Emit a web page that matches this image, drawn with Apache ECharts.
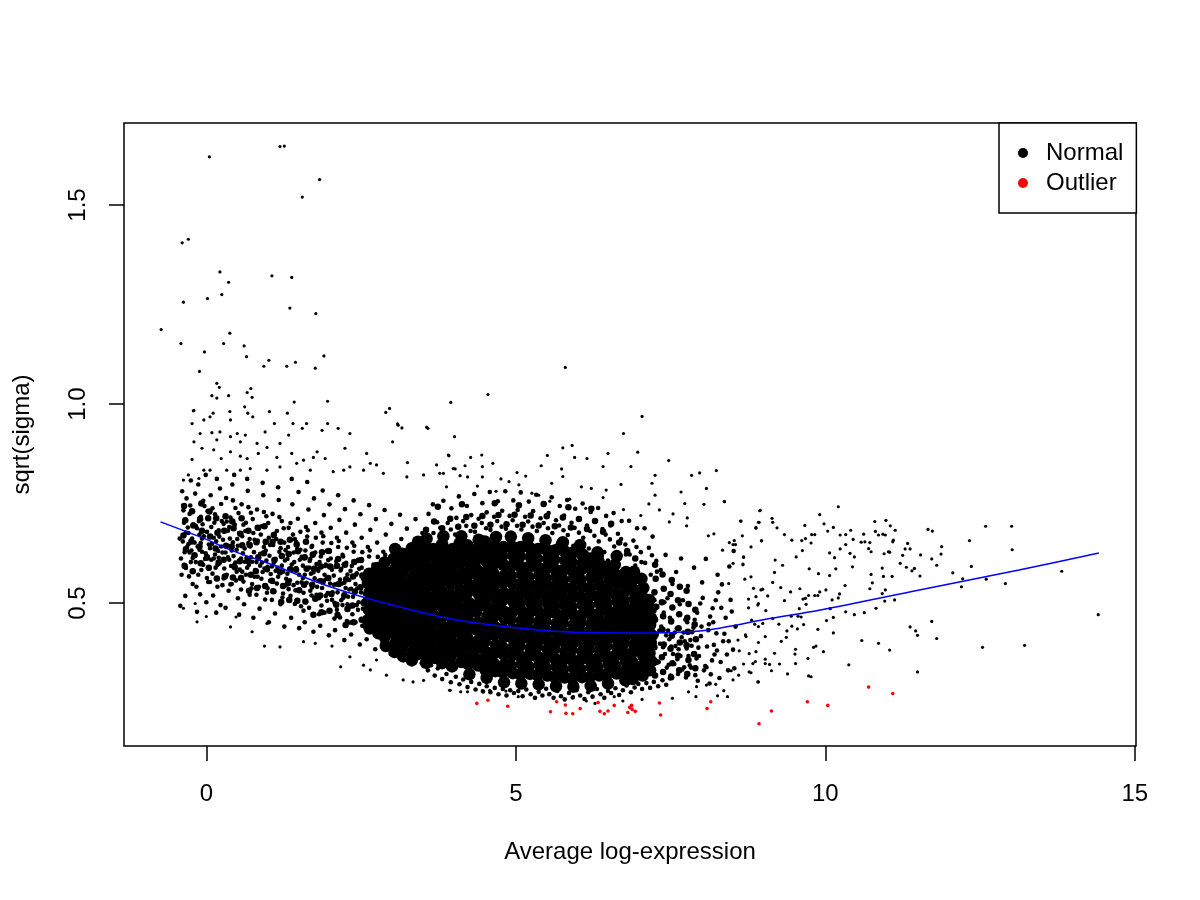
<!DOCTYPE html>
<html><head><meta charset="utf-8">
<script src="https://cdn.jsdelivr.net/npm/echarts@6/dist/echarts.min.js"></script>
<style>html,body{margin:0;padding:0;background:#fff}#c{width:1200px;height:900px}</style>
</head><body><div id="c"></div>
<script>
const xTicks = [0, 5, 10, 15];
const yTicks = [0.5, 1.0, 1.5];

const outliers = [[4.37,.248],[4.55,.256],[4.87,.241],[5.56,.227],[5.66,.252],[5.80,.244],[5.81,.223],[5.92,.222],[6.04,.235],[6.33,.250],[6.36,.228],[6.43,.222],[6.49,.229],[6.59,.243],[6.81,.225],[6.84,.238],[6.87,.243],[6.88,.233],[6.93,.228],[7.32,.249],[7.34,.219],[8.09,.235],[8.15,.252],[8.93,.197],[9.13,.229],[9.71,.252],[10.04,.243],[10.70,.289],[11.09,.273]];

const trendLine = [[-0.74,.704],[0,.660],[0.39,.633],[1,.600],[2,.541],[3,.495],[4.1,.456],[5.39,.432],[6.2,.426],[7,.425],[8.08,.432],[9.1,.461],[9.9,.482],[11.52,.533],[13.13,.583],[14.42,.626]];

const normalSparse = [
[0.05,1.621],[1.19,1.647],[1.26,1.648],[1.83,1.564],[1.55,1.520],[-0.39,1.405],[-0.29,1.414],[0.22,1.332],[0.36,1.306],[0.25,1.275],[0.02,1.265],[-0.37,1.256],[1.06,1.322],[1.38,1.318],[1.35,1.241],[1.77,1.227],[-0.73,1.187],[-0.41,1.152],[0.28,1.152],[0.38,1.178],[-0.03,1.131],[0.61,1.146],[0.65,1.119],[-0.11,1.082],[0.93,1.095],[1.01,1.110],[1.30,1.095],[1.44,1.105],[1.76,1.090],[1.90,1.121],[0.17,1.052],[0.21,1.042],[0.09,1.021],[0.17,1.015],[0.36,1.021],[0.66,1.029],[0.72,1.039],[0.74,1.017],[1.42,1.005],[1.96,1.007],[-0.20,0.984],[2.90,0.979],[2.96,0.989],[3.09,0.950],[3.56,0.942],[3.10,0.947],
[-0.21,0.983],[0.11,0.977],[0.38,0.981],[0.62,0.993],[0.67,0.977],[0.75,0.968],[1.02,0.981],[1.31,0.977],[1.40,0.951],[1.62,0.951],[1.96,0.951],[2.13,0.939],[2.32,0.926],[3.16,0.940],[3.58,0.939],[-0.23,0.951],[-0.04,0.960],[0.06,0.968],[0.39,0.960],[-0.10,0.926],[0.09,0.928],[0.22,0.930],[0.50,0.926],[0.63,0.922],[0.95,0.930],[1.10,0.951],[1.33,0.922],[1.55,0.939],[1.87,0.934],[-0.20,0.905],[-0.07,0.889],[0.17,0.910],[0.39,0.918],[0.55,0.905],[0.82,0.901],[1.19,0.901],[0.98,0.891],[1.79,0.880],[2.24,0.889],[2.59,0.876],[3.01,0.905],[4.01,0.918],[-0.23,0.861],[-0.04,0.834],[0.12,0.885],[0.24,0.863],[0.39,0.880],[0.55,0.869],[0.66,0.863],[0.84,0.876],[1.14,0.866],[1.38,0.876],[1.57,0.859],[1.73,0.866],[1.92,0.863],[2.32,0.842],[2.65,0.851],[2.75,0.847],[3.25,0.853],[3.72,0.847],[3.91,0.872],[-0.37,0.809],[-0.29,0.822],[-0.12,0.813],[0.06,0.834],[0.33,0.834],[0.55,0.834],[0.71,0.838],[0.98,0.834],[1.19,0.842],[1.46,0.851],[1.68,0.834],[2.05,0.830],[2.22,0.834],[2.54,0.834],[2.86,0.826],[3.24,0.817],[3.51,0.822],[3.77,0.826],[3.99,0.838],
[-0.37,0.487],[0.00,0.466],[-0.18,0.499],[0.94,0.392],[1.19,0.390],[0.74,0.428],[1.57,0.403],[1.76,0.399],[2.03,0.392],[2.17,0.340],[2.54,0.344],[2.75,0.357],[2.91,0.319],[3.18,0.307],[3.34,0.302],[3.51,0.306],[3.94,0.281],[2.65,0.332],[2.32,0.365],[0.98,0.449],[0.39,0.440],[-0.15,0.453],[0.48,0.465],
[5.80,1.092],[4.55,1.024],[3.95,1.004],[7.04,0.969],[6.74,0.926],[5.76,0.890],[5.91,0.896],[6.97,0.879],[6.49,0.876],[7.47,0.858],[8.24,0.833],[7.97,0.827],[7.84,0.821],[7.25,0.821],[6.86,0.843],[6.41,0.843],[6.15,0.863],[5.95,0.866],[5.51,0.871],[5.41,0.845],[5.74,0.837],[5.76,0.818],[4.45,0.872],[4.27,0.866],[3.92,0.870],[4.18,0.845],[4.46,0.843],[4.63,0.851],[4.02,0.837],[8.37,0.755],[8.08,0.788],[8.04,0.748],[7.67,0.779],[7.73,0.750],[7.25,0.771],[7.20,0.801],[8.64,0.706],[8.93,0.703],[8.95,0.733],[8.97,0.656],[8.88,0.690],[8.66,0.669],[8.20,0.674],[8.11,0.669],[7.77,0.714],[7.76,0.694],[7.54,0.724],[7.48,0.704],[7.32,0.734],[7.15,0.749],[7.02,0.720],[6.74,0.735],[6.70,0.798],[6.46,0.784],[6.41,0.765],[6.13,0.738],[6.22,0.788],[6.06,0.792],[5.87,0.761],[5.58,0.801],[5.55,0.756],[5.37,0.771],[5.16,0.819],[5.02,0.828],[4.89,0.805],[4.76,0.812],[4.68,0.781],[4.46,0.817],[4.38,0.794],[4.22,0.817],[4.10,0.820],[3.88,0.792],[3.83,0.826],[5.05,0.797],[5.26,0.776],
[8.51,0.647],[8.34,0.633],[8.53,0.657],[8.68,0.615],[8.51,0.600],[8.67,0.596],[8.96,0.533],[8.88,0.516],[8.70,0.560],[8.44,0.549],[8.91,0.495],[8.76,0.488],[8.86,0.447],[8.72,0.416],[9.03,0.416],[8.92,0.401],[8.88,0.378],[9.03,0.348],[8.83,0.348],[8.77,0.327],[8.91,0.302],[8.51,0.307],[8.60,0.319],[8.23,0.296],[8.08,0.294],[7.92,0.290],[8.26,0.267],[7.91,0.265],[7.79,0.277],[7.53,0.261],[7.04,0.258],[6.73,0.254],[6.59,0.265],[6.14,0.254],[6.28,0.248],[5.93,0.265],[5.55,0.273],[5.31,0.261],[5.04,0.265],[4.84,0.279],[4.46,0.280],[4.58,0.281],[4.22,0.277],[4.11,0.277],[3.93,0.281],
[10.21,0.742],[9.91,0.722],[9.67,0.695],[9.98,0.699],[10.13,0.690],[10.04,0.681],[9.83,0.672],[9.78,0.672],[9.62,0.657],[9.68,0.662],[9.77,0.651],[9.63,0.632],[9.53,0.616],[9.74,0.586],[9.89,0.574],[10.07,0.626],[10.15,0.614],[10.17,0.586],[10.07,0.569],[10.24,0.671],[10.33,0.672],[10.41,0.683],[10.45,0.660],[10.33,0.647],[10.24,0.636],[10.40,0.625],[10.47,0.616],[10.44,0.591],[10.62,0.673],[10.58,0.653],[10.64,0.654],[10.72,0.652],[10.70,0.637],[10.74,0.629],[10.80,0.705],[10.81,0.680],[10.86,0.671],[10.98,0.708],[10.93,0.673],[10.97,0.671],[11.05,0.694],[11.13,0.683],[11.09,0.654],[11.10,0.658],[11.02,0.629],[10.95,0.624],[11.04,0.628],[11.33,0.650],[11.29,0.636],[11.37,0.636],[11.25,0.620],[11.21,0.600],[11.31,0.590],[11.40,0.581],[11.44,0.587],[11.53,0.568],[11.54,0.621],[11.66,0.685],[11.73,0.681],[11.88,0.642],[11.87,0.623],[11.72,0.611],[11.80,0.595],[12.06,0.576],[12.22,0.561],[12.33,0.657],[12.36,0.592],[12.59,0.693],[13.01,0.693],[13.02,0.634],[12.60,0.560],[12.20,0.541],[12.91,0.549],[13.82,0.580],[14.41,0.471],[13.22,0.394],[12.54,0.389],[11.80,0.411],[11.72,0.454],[11.37,0.440],[11.46,0.430],[11.49,0.419],[11.49,0.327],[11.04,0.382],[10.86,0.399],[10.59,0.406],[10.38,0.345],[10.63,0.476],[10.47,0.471],[10.33,0.478],[10.82,0.487],[10.92,0.524],[10.97,0.533],[11.12,0.508],[10.96,0.505],[10.74,0.572],[10.76,0.551],[10.72,0.536],[10.92,0.588],[10.94,0.567],[11.08,0.567],[10.32,0.544],[10.23,0.523],[10.21,0.513],[10.11,0.508],[10.01,0.533],[9.91,0.528],[9.88,0.519],[9.83,0.519],[10.13,0.464],[10.08,0.486],[10.02,0.456],[9.88,0.434],[10.13,0.425],[9.73,0.519],[9.68,0.512],[9.69,0.497],[9.59,0.536],[9.64,0.510],[9.58,0.486],[9.61,0.465],[9.65,0.446],[9.56,0.467],[9.85,0.392],[9.81,0.389],[9.97,0.378],[9.72,0.361],[9.77,0.315],[9.73,0.317],[9.52,0.384],[9.52,0.348],[9.51,0.372],[9.55,0.435],[9.46,0.442],[9.45,0.467],[9.44,0.528],[9.39,0.322],
[8.94,0.732],[8.92,0.703],[8.63,0.706],[8.37,0.755],[8.88,0.688],[8.97,0.657],[9.14,0.713],[9.15,0.703],[9.22,0.689],[9.34,0.672],[9.46,0.658],[8.80,0.641],[9.19,0.608],[9.31,0.595],[9.18,0.577],[9.15,0.552],[9.28,0.539],[9.07,0.518],[9.34,0.506],[9.15,0.461],[9.25,0.447],[9.04,0.481],[8.99,0.449],[9.38,0.430],[9.37,0.414],[9.29,0.404],[9.18,0.374],[9.10,0.346],[9.26,0.347],[9.13,0.330],[8.92,0.302],[9.03,0.359],[8.87,0.353],[8.80,0.325],[8.68,0.616],[8.67,0.598],[8.55,0.647],[8.45,0.652],[8.80,0.566],[8.84,0.537],[8.99,0.535],[8.92,0.499],[8.76,0.510],[8.81,0.457],[8.92,0.441],[8.59,0.407],[8.71,0.420],[8.61,0.380],[8.77,0.373],[8.68,0.347],[8.48,0.330],[8.42,0.265],[8.36,0.280]
];

const normalCloud = [
[-0.41,.612],[-0.38,.655],[-0.36,.702],[-0.33,.588],[-0.31,.641],[-0.29,.676],[-0.27,.724],[-0.25,.603],[-0.23,.662],[-0.22,.548],[-0.40,.571],[-0.35,.628],[-0.30,.690],[-0.26,.745],[-0.24,.632],[-0.21,.697],[-0.43,.662],[-0.37,.733],[-0.34,.518],[-0.28,.567],[-0.39,.781],[-0.32,.763],[-0.42,.493],[-0.25,.808],[-0.22,.613],[-0.36,.596],[-0.29,.648],[-0.21,.581],[-0.33,.677],[-0.27,.627],
[-0.19,.652],[-0.17,.603],[-0.15,.688],[-0.13,.571],[-0.11,.634],[-0.09,.717],[-0.07,.662],[-0.05,.596],[-0.03,.744],[-0.01,.625],[0.01,.679],[0.03,.553],[-0.18,.775],[-0.14,.642],[-0.10,.522],[-0.06,.698],[-0.02,.611],[0.02,.731],[0.04,.647],[-0.16,.541],[-0.12,.706],[-0.08,.583],[-0.04,.668],[0.00,.502],[-0.20,.619],[-0.13,.798],[-0.07,.629],[0.04,.587],[-0.11,.672],[-0.01,.822],[-0.17,.694],[0.02,.612],[-0.05,.757],[-0.15,.478],[-0.09,.651],[0.01,.563],
[0.06,.638],[0.08,.691],[0.10,.574],[0.12,.612],[0.14,.723],[0.16,.655],[0.18,.541],[0.20,.683],[0.22,.603],[0.24,.749],[0.26,.627],[0.28,.562],[0.07,.771],[0.09,.648],[0.11,.519],[0.13,.702],[0.15,.589],[0.17,.812],[0.19,.631],[0.21,.667],[0.23,.495],[0.25,.706],[0.27,.659],[0.29,.587],[0.06,.553],[0.10,.738],[0.14,.622],[0.18,.596],[0.22,.788],[0.26,.545],[0.28,.699],[0.12,.664],[0.16,.476],[0.20,.614],[0.24,.642],[0.08,.609],
[0.31,.627],[0.33,.571],[0.35,.682],[0.37,.609],[0.39,.715],[0.41,.548],[0.43,.653],[0.45,.596],[0.47,.739],[0.49,.634],[0.51,.512],[0.53,.676],[0.32,.764],[0.34,.643],[0.36,.531],[0.38,.662],[0.40,.593],[0.42,.798],[0.44,.618],[0.46,.697],[0.48,.557],[0.50,.661],[0.52,.726],[0.54,.584],[0.31,.488],[0.35,.615],[0.39,.547],[0.43,.758],[0.47,.602],[0.51,.644],[0.53,.471],[0.37,.691],[0.41,.632],[0.45,.822],[0.49,.579],[0.33,.705],
[0.56,.612],[0.58,.668],[0.60,.554],[0.62,.637],[0.64,.702],[0.66,.589],[0.68,.651],[0.70,.521],[0.72,.727],[0.74,.604],[0.76,.676],[0.78,.566],[0.57,.748],[0.59,.625],[0.61,.497],[0.63,.681],[0.65,.613],[0.67,.782],[0.69,.596],[0.71,.642],[0.73,.537],[0.75,.711],[0.77,.628],[0.79,.583],[0.56,.534],[0.60,.697],[0.64,.571],[0.68,.741],[0.72,.615],[0.76,.463],[0.78,.659],[0.62,.604],[0.66,.812],[0.70,.661],[0.74,.548],[0.58,.579],
[0.81,.603],[0.83,.657],[0.85,.541],[0.87,.624],[0.89,.693],[0.91,.578],[0.93,.641],[0.95,.509],[0.97,.718],[0.99,.591],[1.01,.664],[1.03,.556],[0.82,.735],[0.84,.612],[0.86,.486],[0.88,.672],[0.90,.602],[0.92,.771],[0.94,.587],[0.96,.632],[0.98,.526],[1.00,.701],[1.02,.619],[1.04,.573],[0.81,.521],[0.85,.687],[0.89,.561],[0.93,.729],[0.97,.607],[1.01,.452],[1.03,.646],[0.87,.594],[0.91,.802],[0.95,.651],[0.99,.537],[0.83,.566],
[1.06,.592],[1.08,.646],[1.10,.529],[1.12,.611],[1.14,.681],[1.16,.566],[1.18,.629],[1.20,.497],[1.22,.706],[1.24,.579],[1.26,.652],[1.28,.544],[1.07,.724],[1.09,.601],[1.11,.474],[1.13,.661],[1.15,.589],[1.17,.759],[1.19,.575],[1.21,.619],[1.23,.514],[1.25,.688],[1.27,.607],[1.29,.561],[1.06,.508],[1.10,.674],[1.14,.549],[1.18,.716],[1.22,.594],[1.26,.441],[1.28,.633],[1.12,.581],[1.16,.791],[1.20,.638],[1.24,.524],[1.08,.553],
[1.31,.574],[1.34,.622],[1.36,.518],[1.33,.689],[1.38,.597],[1.41,.545],[1.43,.661],[1.46,.583],[1.48,.712],[1.51,.609],[1.53,.492],[1.32,.641],[1.35,.557],[1.39,.748],[1.42,.603],[1.44,.532],[1.47,.636],[1.50,.571],[1.52,.679],[1.54,.616],[1.37,.463],[1.40,.672],[1.45,.588],[1.49,.779],[1.31,.611],[1.36,.701],[1.43,.498],[1.47,.551],[1.52,.634],[1.34,.586],[1.41,.627],[1.50,.437],[1.54,.552],[1.38,.812],[1.45,.654],[1.33,.535],
[1.56,.563],[1.58,.612],[1.61,.502],[1.63,.667],[1.66,.589],[1.68,.531],[1.71,.644],[1.73,.577],[1.76,.701],[1.78,.598],[1.57,.481],[1.60,.632],[1.62,.551],[1.65,.735],[1.67,.606],[1.70,.519],[1.72,.619],[1.75,.562],[1.77,.664],[1.79,.541],[1.59,.452],[1.64,.683],[1.69,.574],[1.74,.763],[1.56,.594],[1.61,.691],[1.66,.488],[1.71,.539],[1.76,.627],[1.59,.571],[1.68,.611],[1.73,.428],[1.78,.521],[1.63,.804],[1.70,.641],[1.57,.526],[1.77,.587],
[1.81,.556],[1.83,.603],[1.86,.494],[1.88,.652],[1.91,.571],[1.93,.518],[1.96,.629],[1.98,.562],[2.01,.689],[2.03,.584],[1.82,.472],[1.85,.617],[1.87,.538],[1.90,.721],[1.92,.593],[1.95,.506],[1.97,.608],[2.00,.549],[2.02,.651],[2.04,.527],[1.84,.443],[1.89,.668],[1.94,.561],[1.99,.748],[1.81,.581],[1.86,.677],[1.91,.476],[1.96,.525],[2.01,.612],[1.84,.558],[1.93,.597],[1.98,.419],[2.03,.508],[1.88,.783],[1.95,.632],[1.82,.512],
[2.06,.546],[2.09,.591],[2.11,.483],[2.13,.641],[2.16,.559],[2.18,.507],[2.21,.617],[2.23,.551],[2.26,.677],[2.28,.572],[2.07,.461],[2.10,.605],[2.12,.527],[2.15,.709],[2.17,.582],[2.20,.495],[2.22,.597],[2.25,.538],[2.27,.639],[2.29,.516],[2.08,.432],[2.14,.656],[2.19,.549],[2.24,.736],[2.06,.569],[2.11,.664],[2.16,.464],[2.21,.513],[2.26,.601],[2.09,.547],[2.18,.586],[2.23,.407],[2.28,.497],[2.13,.771],[2.20,.621],[2.07,.501],[2.27,.455],
[2.31,.534],[2.33,.581],[2.36,.472],[2.38,.629],[2.41,.548],[2.43,.495],[2.46,.606],[2.48,.541],[2.51,.664],[2.53,.561],[2.32,.451],[2.35,.593],[2.37,.516],[2.40,.697],[2.42,.571],[2.45,.483],[2.47,.586],[2.50,.527],[2.52,.628],[2.54,.505],[2.34,.421],[2.39,.644],[2.44,.537],[2.49,.723],[2.31,.558],[2.36,.652],[2.41,.452],[2.46,.502],[2.51,.589],[2.34,.536],[2.43,.575],[2.48,.396],[2.53,.486],[2.38,.758],[2.45,.609],[2.32,.491],[2.52,.443],
[2.56,.523],[2.58,.569],[2.61,.461],[2.63,.617],[2.66,.537],[2.68,.484],[2.71,.594],[2.73,.529],[2.76,.652],[2.78,.549],[2.57,.439],[2.60,.581],[2.62,.504],[2.65,.684],[2.67,.559],[2.70,.471],[2.72,.574],[2.75,.515],[2.77,.616],[2.79,.493],[2.59,.409],[2.64,.632],[2.69,.525],[2.74,.711],[2.56,.546],[2.61,.641],[2.66,.441],[2.71,.491],[2.76,.577],[2.59,.524],[2.68,.563],[2.73,.384],[2.78,.474],[2.63,.746],[2.70,.597],[2.57,.479],[2.77,.431],[2.65,.452],
[2.81,.512],[2.83,.558],[2.86,.449],[2.88,.606],[2.91,.526],[2.93,.472],[2.96,.582],[2.98,.518],[3.01,.641],[3.03,.537],[2.82,.427],[2.85,.569],[2.87,.492],[2.90,.672],[2.92,.547],[2.95,.459],[2.97,.562],[3.00,.503],[3.02,.604],[3.04,.481],[2.84,.397],[2.89,.621],[2.94,.513],[2.99,.699],[2.81,.535],[2.86,.629],[2.91,.429],[2.96,.479],[3.01,.566],[2.84,.512],[2.93,.551],[2.98,.372],[3.03,.462],[2.88,.734],[2.95,.585],[2.82,.467],[3.02,.419],[2.90,.441],[2.97,.491],
[3.06,.502],[3.08,.547],[3.11,.438],[3.13,.594],[3.16,.515],[3.18,.461],[3.21,.571],[3.23,.507],[3.26,.629],[3.28,.526],[3.07,.416],[3.10,.557],[3.12,.481],[3.15,.661],[3.17,.536],[3.20,.448],[3.22,.551],[3.25,.492],[3.27,.593],[3.29,.469],[3.09,.386],[3.14,.609],[3.19,.502],[3.24,.687],[3.06,.524],[3.11,.617],[3.16,.418],[3.21,.468],[3.26,.555],[3.09,.501],[3.18,.541],[3.23,.361],[3.28,.451],[3.13,.722],[3.20,.574],[3.07,.456],[3.27,.408],[3.15,.431],[3.22,.479],[3.25,.426],
[3.31,.492],[3.33,.536],[3.36,.428],[3.38,.583],[3.41,.504],[3.43,.451],[3.46,.561],[3.48,.496],[3.51,.618],[3.53,.515],[3.32,.405],[3.35,.546],[3.37,.471],[3.40,.649],[3.42,.525],[3.45,.437],[3.47,.541],[3.50,.481],[3.52,.582],[3.54,.458],[3.34,.376],[3.39,.598],[3.44,.491],[3.49,.676],[3.31,.513],[3.36,.606],[3.41,.407],[3.46,.457],[3.51,.544],[3.34,.489],[3.43,.531],[3.48,.349],[3.53,.441],[3.38,.711],[3.45,.563],[3.32,.445],[3.52,.397],[3.40,.421],[3.47,.468],[3.50,.415],
[3.57,.602],[3.61,.641],[3.64,.588],[3.67,.676],[3.70,.615],[3.73,.703],[3.76,.631],[3.79,.662],[3.59,.724],[3.66,.748],[3.72,.597],[3.78,.689],
[3.81,.623],[3.84,.664],[3.87,.609],[3.90,.701],[3.93,.641],[3.96,.738],[3.99,.618],[4.02,.672],[3.83,.757],[3.89,.627],[3.95,.685],[4.04,.714],
[4.06,.631],[4.09,.672],[4.12,.616],[4.15,.706],[4.18,.648],[4.21,.744],[4.24,.625],[4.27,.681],[4.08,.768],[4.14,.637],[4.20,.694],[4.28,.721],
[4.31,.638],[4.34,.679],[4.37,.624],[4.40,.712],[4.43,.655],[4.46,.751],[4.49,.632],[4.52,.688],[4.33,.774],[4.39,.644],[4.45,.701],[4.53,.728],
[4.56,.642],[4.59,.684],[4.62,.629],[4.65,.717],[4.68,.659],[4.71,.756],[4.74,.637],[4.77,.692],[4.58,.779],[4.64,.649],[4.70,.706],[4.78,.732],
[4.81,.645],[4.84,.687],[4.87,.632],[4.90,.719],[4.93,.661],[4.96,.758],[4.99,.639],[5.02,.694],[4.83,.781],[4.89,.651],[4.95,.708],[5.03,.734],
[5.06,.643],[5.09,.685],[5.12,.631],[5.15,.717],[5.18,.659],[5.21,.755],[5.24,.638],[5.27,.692],[5.08,.778],[5.14,.649],[5.20,.705],[5.28,.731],
[5.31,.640],[5.34,.681],[5.37,.627],[5.40,.713],[5.43,.655],[5.46,.750],[5.49,.634],[5.52,.688],[5.33,.772],[5.39,.645],[5.45,.701],[5.53,.726],
[5.56,.636],[5.59,.676],[5.62,.622],[5.65,.708],[5.68,.650],[5.71,.744],[5.74,.629],[5.77,.683],[5.58,.766],[5.64,.640],[5.70,.695],[5.78,.720],
[5.81,.631],[5.84,.671],[5.87,.617],[5.90,.702],[5.93,.644],[5.96,.737],[5.99,.623],[6.02,.677],[5.83,.759],[5.89,.634],[5.95,.689],[6.03,.713],
[6.06,.624],[6.09,.664],[6.12,.611],[6.15,.695],[6.18,.637],[6.21,.729],[6.24,.616],[6.27,.669],[6.08,.750],[6.14,.627],[6.20,.681],[6.28,.705],
[6.31,.615],[6.34,.655],[6.37,.603],[6.40,.686],[6.43,.628],[6.46,.719],[6.49,.607],[6.52,.660],[6.33,.739],[6.39,.618],[6.45,.672],[6.53,.695],
[6.56,.596],[6.59,.642],[6.62,.584],[6.65,.674],[6.68,.613],[6.71,.706],[6.74,.579],[6.77,.647],[6.58,.726],[6.64,.558],[6.70,.661],[6.78,.622],
[6.81,.566],[6.84,.622],[6.87,.551],[6.90,.657],[6.93,.594],[6.96,.688],[6.99,.541],[7.02,.628],[6.83,.707],[6.89,.527],[6.95,.641],[7.03,.603],
[7.06,.536],[7.09,.601],[7.12,.518],[7.15,.639],[7.18,.571],[7.21,.667],[7.24,.507],[7.27,.606],[7.08,.688],[7.14,.494],[7.20,.620],[7.28,.579],
[3.52,.352],[3.58,.331],[3.63,.344],[3.69,.318],[3.74,.336],[3.81,.309],[3.88,.322],[3.95,.301],
[4.03,.315],[4.09,.296],[4.15,.308],[4.22,.289],[4.28,.302],[4.35,.283],[4.41,.297],[4.47,.278],
[4.53,.291],[4.59,.276],[4.66,.287],[4.72,.271],[4.79,.284],[4.85,.268],[4.91,.281],[4.97,.274],
[5.04,.279],[5.11,.266],[5.17,.283],[5.24,.271],[5.31,.262],[5.37,.277],[5.43,.268],[5.49,.285],
[5.54,.271],[5.61,.262],[5.67,.279],[5.73,.266],[5.79,.258],[5.86,.274],[5.92,.263],[5.98,.281],
[6.04,.268],[6.11,.259],[6.17,.276],[6.24,.265],[6.31,.284],[6.37,.271],[6.43,.262],[6.49,.279],
[6.54,.274],[6.61,.286],[6.67,.269],[6.73,.281],[6.79,.293],[6.86,.276],[6.92,.288],[6.98,.297],
[7.04,.284],[7.11,.299],[7.17,.287],[7.23,.302],[7.30,.291],[7.37,.306],[7.43,.295],[7.49,.311],
[7.31,.352],[7.33,.398],[7.35,.441],[7.37,.327],[7.39,.476],[7.41,.372],[7.43,.419],[7.45,.512],[7.47,.345],[7.49,.463],[7.51,.391],[7.53,.548],[7.32,.431],[7.36,.364],[7.40,.502],[7.44,.338],[7.48,.409],[7.52,.457],[7.34,.583],[7.42,.621],[7.50,.318],[7.38,.389],[7.46,.431],[7.54,.372],
[7.56,.347],[7.58,.392],[7.60,.436],[7.62,.322],[7.64,.471],[7.66,.367],[7.68,.414],[7.70,.507],[7.72,.339],[7.74,.458],[7.76,.386],[7.78,.543],[7.57,.426],[7.61,.359],[7.65,.497],[7.69,.333],[7.73,.404],[7.77,.452],[7.59,.578],[7.67,.612],[7.75,.313],[7.63,.384],[7.71,.426],[7.79,.367],
[7.81,.344],[7.84,.393],[7.87,.438],[7.90,.319],[7.93,.476],[7.96,.367],[7.99,.417],[8.02,.513],[7.83,.338],[7.89,.458],[7.95,.388],[8.01,.552],[7.85,.427],[7.92,.361],[7.98,.499],[8.04,.331],[7.82,.407],[7.88,.589],[7.94,.305],[8.00,.441],
[8.06,.342],[8.09,.391],[8.12,.447],[8.15,.321],[8.18,.487],[8.21,.371],[8.24,.424],[8.27,.527],[8.08,.339],[8.14,.466],[8.20,.395],[8.26,.571],[8.11,.432],[8.17,.356],[8.23,.507],[8.29,.312],[8.07,.611],[8.13,.298],[8.19,.452],[8.25,.381],
[8.31,.352],[8.35,.404],[8.39,.463],[8.43,.331],[8.47,.508],[8.51,.383],[8.55,.441],[8.33,.547],[8.41,.371],[8.49,.479],[8.37,.423],[8.45,.592],[8.53,.336],[8.32,.488],[8.44,.404],[8.52,.631]
];

const normalMid = [
[-0.35,.593],[-0.33,.635],[-0.37,.670],[-0.34,.708],[-0.36,.744],
[-0.22,.580],[-0.19,.620],[-0.24,.655],[-0.21,.695],[-0.23,.731],
[-0.09,.600],[-0.11,.642],[-0.07,.682],[-0.10,.711],[-0.08,.750],
[0.04,.589],[0.01,.615],[0.06,.667],[0.03,.713],[0.05,.730],
[0.17,.562],[0.20,.602],[0.15,.637],[0.18,.677],[0.16,.713],
[0.30,.567],[0.28,.609],[0.32,.644],[0.29,.682],[0.31,.718],
[0.43,.564],[0.46,.590],[0.41,.642],[0.44,.688],[0.42,.705],
[0.56,.563],[0.54,.605],[0.58,.645],[0.55,.674],[0.57,.713],
[0.69,.531],[0.72,.571],[0.67,.606],[0.70,.646],[0.68,.682],
[0.82,.538],[0.80,.580],[0.84,.615],[0.81,.653],[0.83,.689],
[0.95,.543],[0.98,.585],[0.93,.625],[0.96,.654],[0.94,.693],
[1.08,.530],[1.06,.556],[1.10,.608],[1.07,.654],[1.09,.671],
[1.21,.503],[1.24,.543],[1.19,.578],[1.22,.618],[1.20,.654],
[1.34,.508],[1.32,.550],[1.36,.585],[1.33,.623],[1.35,.659],
[1.47,.506],[1.50,.532],[1.45,.584],[1.48,.630],[1.46,.647],
[1.60,.504],[1.58,.546],[1.62,.586],[1.59,.615],[1.61,.654],
[1.73,.471],[1.76,.511],[1.71,.546],[1.74,.586],[1.72,.622],
[1.86,.477],[1.84,.519],[1.88,.554],[1.85,.592],[1.87,.628],
[1.99,.481],[2.02,.523],[1.97,.563],[2.00,.592],[1.98,.631],
[2.12,.470],[2.10,.496],[2.14,.548],[2.11,.594],[2.13,.611],
[2.25,.445],[2.28,.485],[2.23,.520],[2.26,.560],[2.24,.596],
[2.38,.452],[2.36,.494],[2.40,.529],[2.37,.567],[2.39,.603],
[2.51,.458],[2.54,.500],[2.49,.540],[2.52,.569],[2.50,.608],
[7.25,.318],[7.27,.352],[7.24,.389],[7.26,.421],[7.25,.458],[7.27,.491],[7.24,.527],[7.26,.561],[7.25,.596],
[7.38,.327],[7.36,.364],[7.39,.396],[7.37,.433],[7.38,.467],[7.36,.502],[7.39,.536],[7.37,.572],
[7.51,.314],[7.53,.349],[7.50,.385],[7.52,.418],[7.51,.454],[7.53,.489],[7.50,.523],[7.52,.558],
[7.64,.331],[7.62,.368],[7.65,.401],[7.63,.437],[7.64,.472],[7.62,.507],[7.65,.541],
[7.77,.322],[7.79,.357],[7.76,.394],[7.78,.428],[7.77,.463],[7.79,.498],[7.76,.531],
[7.90,.336],[7.88,.372],[7.91,.409],[7.89,.446],[7.90,.483],
[3.55,.684],[3.68,.705],[3.81,.688],[3.94,.712],[4.07,.692],[4.20,.716],[4.33,.694],[4.46,.719],[4.59,.697],[4.72,.721],[4.85,.698],[4.98,.722],[5.11,.697],[5.24,.720],[5.37,.695],[5.50,.718],[5.63,.693],[5.76,.715],[5.89,.690],[6.02,.711],[6.15,.686],[6.28,.706],[6.41,.679],[6.54,.699],[6.67,.652],[6.80,.631],[6.93,.612],
[3.74,.742],[4.13,.748],[4.66,.751],[5.05,.746],[5.45,.749],[5.85,.741],[6.22,.737]
];

const normalCore = [
[2.64,.436],[2.61,.457],[2.63,.483],[2.62,.504],[2.64,.528],[2.61,.551],[2.63,.574],
[2.78,.424],[2.75,.448],[2.77,.471],[2.76,.495],[2.78,.517],[2.75,.542],[2.77,.563],[2.76,.588],
[2.90,.392],[2.88,.415],[2.91,.439],[2.89,.462],[2.90,.486],[2.88,.508],[2.91,.533],[2.89,.555],[2.90,.579],[2.88,.602],
[3.04,.377],[3.06,.401],[3.03,.424],[3.05,.448],[3.04,.471],[3.06,.494],[3.03,.518],[3.05,.541],[3.04,.565],[3.06,.588],[3.03,.612],[3.05,.636],
[3.18,.366],[3.16,.389],[3.19,.413],[3.17,.436],[3.18,.460],[3.16,.483],[3.19,.507],[3.17,.530],[3.18,.554],[3.16,.577],[3.19,.601],[3.17,.624],
[3.32,.356],[3.34,.379],[3.31,.403],[3.33,.426],[3.32,.450],[3.34,.473],[3.31,.497],[3.33,.520],[3.32,.544],[3.34,.567],[3.31,.591],[3.33,.614],[3.32,.638],
[3.42,.372],[3.45,.396],[3.43,.419],[3.44,.443],[3.42,.466],[3.45,.490],[3.43,.513],[3.44,.537],[3.42,.560],[3.45,.584],[3.43,.607],[3.44,.631],[3.42,.654],
[3.55,.350],[3.55,.371],[3.57,.392],[3.53,.417],[3.56,.438],[3.54,.465],[3.57,.484],[3.55,.509],[3.53,.527],[3.56,.551],[3.56,.572],[3.54,.594],[3.57,.617],[3.55,.641],[3.56,.662],
[3.69,.362],[3.66,.381],[3.70,.408],[3.67,.426],[3.69,.452],[3.66,.471],[3.70,.497],[3.68,.515],[3.67,.543],[3.69,.564],[3.68,.588],[3.70,.611],[3.67,.636],
[3.81,.349],[3.84,.376],[3.82,.394],[3.80,.421],[3.83,.440],[3.81,.466],[3.84,.485],[3.82,.511],[3.80,.529],[3.83,.556],[3.81,.577],[3.82,.601],[3.84,.624],[3.81,.648],[3.83,.668],
[3.97,.341],[3.95,.367],[3.98,.386],[3.94,.412],[3.96,.431],[3.98,.457],[3.95,.476],[3.97,.502],[3.94,.521],[3.96,.547],[3.98,.566],[3.95,.589],[3.96,.612],[3.98,.636],
[4.12,.352],[4.10,.378],[4.08,.397],[4.11,.424],[4.09,.442],[4.12,.469],[4.10,.487],[4.08,.514],[4.11,.532],[4.09,.559],[4.12,.577],[4.10,.602],[4.11,.626],[4.09,.649],[4.12,.668],
[4.25,.321],[4.23,.347],[4.26,.366],[4.24,.392],[4.22,.411],[4.25,.437],[4.23,.456],[4.26,.482],[4.24,.501],[4.22,.527],[4.25,.546],[4.23,.572],[4.26,.596],[4.24,.621],[4.22,.645],
[4.39,.343],[4.36,.361],[4.38,.388],[4.40,.406],[4.37,.433],[4.39,.451],[4.36,.478],[4.38,.496],[4.40,.523],[4.37,.541],[4.39,.568],[4.36,.586],[4.38,.612],[4.38,.636],[4.40,.659],
[4.53,.312],[4.51,.332],[4.54,.358],[4.52,.377],[4.50,.403],[4.53,.422],[4.51,.448],[4.54,.467],[4.52,.493],[4.50,.512],[4.53,.538],[4.51,.557],[4.54,.583],[4.52,.606],[4.52,.631],[4.50,.655],
[4.67,.329],[4.64,.349],[4.66,.375],[4.68,.394],[4.65,.420],[4.67,.439],[4.64,.465],[4.66,.484],[4.68,.510],[4.65,.529],[4.67,.555],[4.64,.574],[4.66,.600],[4.68,.619],[4.66,.643],[4.68,.666],
[4.81,.301],[4.79,.326],[4.82,.345],[4.80,.371],[4.78,.390],[4.81,.416],[4.79,.435],[4.82,.461],[4.80,.480],[4.78,.506],[4.81,.525],[4.79,.551],[4.82,.570],[4.80,.596],[4.78,.618],[4.80,.641],
[4.95,.324],[4.92,.343],[4.94,.369],[4.96,.388],[4.93,.414],[4.95,.433],[4.92,.459],[4.94,.478],[4.96,.504],[4.93,.523],[4.95,.549],[4.92,.568],[4.94,.594],[4.96,.619],[4.94,.642],[4.92,.667],
[5.09,.298],[5.07,.321],[5.10,.347],[5.08,.366],[5.06,.392],[5.09,.411],[5.07,.437],[5.10,.456],[5.08,.482],[5.06,.501],[5.09,.527],[5.07,.546],[5.10,.572],[5.08,.591],[5.06,.617],[5.08,.641],
[5.23,.322],[5.20,.341],[5.22,.367],[5.24,.386],[5.21,.412],[5.23,.431],[5.20,.457],[5.22,.476],[5.24,.502],[5.21,.521],[5.23,.547],[5.20,.566],[5.22,.592],[5.24,.616],[5.22,.640],[5.20,.663],
[5.37,.296],[5.35,.319],[5.38,.345],[5.36,.364],[5.34,.390],[5.37,.409],[5.35,.435],[5.38,.454],[5.36,.480],[5.34,.499],[5.37,.525],[5.35,.544],[5.38,.570],[5.36,.589],[5.34,.612],[5.36,.636],
[5.51,.318],[5.48,.338],[5.50,.364],[5.52,.383],[5.49,.409],[5.51,.428],[5.48,.454],[5.50,.473],[5.52,.499],[5.49,.518],[5.51,.544],[5.48,.563],[5.50,.589],[5.52,.611],[5.50,.634],[5.48,.658],
[5.65,.291],[5.63,.314],[5.66,.340],[5.64,.359],[5.62,.385],[5.65,.404],[5.63,.430],[5.66,.449],[5.64,.475],[5.62,.494],[5.65,.520],[5.63,.539],[5.66,.565],[5.64,.584],[5.62,.609],[5.64,.633],
[5.79,.313],[5.76,.333],[5.78,.359],[5.80,.378],[5.77,.404],[5.79,.423],[5.76,.449],[5.78,.468],[5.80,.494],[5.77,.513],[5.79,.539],[5.76,.558],[5.78,.584],[5.80,.607],[5.78,.631],[5.76,.653],
[5.93,.290],[5.91,.311],[5.94,.337],[5.92,.356],[5.90,.382],[5.93,.401],[5.91,.427],[5.94,.446],[5.92,.472],[5.90,.491],[5.93,.517],[5.91,.536],[5.94,.562],[5.92,.581],[5.90,.603],[5.92,.627],
[6.07,.314],[6.04,.334],[6.06,.360],[6.08,.379],[6.05,.405],[6.07,.424],[6.04,.450],[6.06,.469],[6.08,.495],[6.05,.514],[6.07,.540],[6.04,.559],[6.06,.585],[6.08,.601],[6.06,.624],[6.04,.646],
[6.21,.292],[6.19,.313],[6.22,.339],[6.20,.358],[6.18,.384],[6.21,.403],[6.19,.429],[6.22,.448],[6.20,.474],[6.18,.493],[6.21,.519],[6.19,.538],[6.22,.564],[6.20,.589],[6.20,.612],
[6.35,.318],[6.32,.338],[6.34,.364],[6.36,.383],[6.33,.409],[6.35,.428],[6.32,.454],[6.34,.473],[6.36,.499],[6.33,.518],[6.35,.544],[6.32,.563],[6.34,.581],[6.34,.604],[6.32,.628],
[6.49,.298],[6.47,.321],[6.50,.347],[6.48,.366],[6.46,.392],[6.49,.411],[6.47,.437],[6.50,.456],[6.48,.482],[6.46,.501],[6.49,.527],[6.47,.546],[6.50,.569],[6.48,.592],
[6.63,.323],[6.60,.343],[6.62,.369],[6.64,.388],[6.61,.414],[6.63,.433],[6.60,.459],[6.62,.478],[6.64,.504],[6.61,.523],[6.63,.549],[6.62,.571],[6.60,.596],[6.63,.618],
[6.77,.306],[6.75,.328],[6.78,.354],[6.76,.373],[6.74,.399],[6.77,.418],[6.75,.444],[6.78,.463],[6.76,.489],[6.74,.508],[6.77,.531],[6.76,.554],[6.78,.578],
[6.89,.309],[6.91,.332],[6.88,.352],[6.90,.378],[6.92,.397],[6.89,.423],[6.91,.442],[6.88,.468],[6.90,.487],[6.92,.509],[6.90,.532],[6.88,.556],[6.91,.579],
[7.05,.318],[7.03,.341],[7.06,.367],[7.04,.386],[7.02,.412],[7.05,.431],[7.03,.457],[7.06,.476],[7.04,.492],[7.04,.515],[7.06,.538],[7.03,.561],
[7.17,.331],[7.19,.354],[7.16,.374],[7.18,.400],[7.20,.419],[7.17,.445],[7.19,.461],[7.18,.484],[7.16,.508]
];

const FONT = '"Liberation Sans", Arial, Helvetica, sans-serif';
const chart = echarts.init(document.getElementById('c'), null, {renderer: 'canvas'});
const dot = (data, size) => ({name: 'Normal', type: 'scatter', data: data, symbol: 'circle', symbolSize: size, itemStyle: {color: '#000000', opacity: 1}, emphasis: {disabled: true}, silent: true, z: 2});
chart.setOption({
  animation: false,
  backgroundColor: '#ffffff',
  textStyle: {fontFamily: FONT, color: '#000'},
  grid: {left: 124, right: 64, top: 123, bottom: 154, show: true, borderColor: '#000', borderWidth: 1.5, backgroundColor: 'transparent'},
  legend: {
    data: [{name: 'Normal', icon: 'circle'}, {name: 'Outlier', icon: 'circle'}],
    orient: 'vertical', left: 999, top: 123,
    itemWidth: 36, itemHeight: 10, itemGap: 6,
    padding: [18, 13, 18, 19],
    borderColor: '#000', borderWidth: 1.5, backgroundColor: '#fff',
    textStyle: {fontFamily: FONT, fontSize: 24, color: '#000'},
    itemStyle: {opacity: 1},
    selectedMode: false
  },
  xAxis: {
    type: 'value', min: -1.33, max: 15.02,
    name: 'Average log-expression', nameLocation: 'middle', nameGap: 94,
    nameTextStyle: {fontFamily: FONT, fontSize: 24, color: '#000'},
    axisLine: {show: false, onZero: false},
    splitLine: {show: false},
    axisTick: {show: true, customValues: xTicks, length: 15, lineStyle: {color: '#000', width: 1.5}},
    axisLabel: {customValues: xTicks, margin: 36, fontFamily: FONT, fontSize: 24, color: '#000', formatter: v => String(v)}
  },
  yAxis: {
    type: 'value', min: 0.141, max: 1.706,
    name: 'sqrt(sigma)', nameLocation: 'middle', nameGap: 90, nameRotate: 90,
    nameTextStyle: {fontFamily: FONT, fontSize: 24, color: '#000'},
    axisLine: {show: false, onZero: false},
    splitLine: {show: false},
    axisTick: {show: true, customValues: yTicks, length: 15, lineStyle: {color: '#000', width: 1.5}},
    axisLabel: {customValues: yTicks, rotate: 90, margin: 34, fontFamily: FONT, fontSize: 24, color: '#000', formatter: v => v.toFixed(1)}
  },
  series: [
    dot(normalCore, 12.5),
    dot(normalMid, 6.5),
    dot(normalCloud, 4.6),
    dot(normalSparse, 3.2),
    {name: 'Outlier', type: 'scatter', data: outliers, symbol: 'circle', symbolSize: 3.6, itemStyle: {color: '#ff0000', opacity: 1}, emphasis: {disabled: true}, silent: true, z: 3},
    {name: 'trend', type: 'line', data: trendLine, smooth: 0.3, showSymbol: false, symbol: 'none', lineStyle: {color: '#0000ff', width: 1.5}, silent: true, z: 4}
  ]
});
</script></body></html>
